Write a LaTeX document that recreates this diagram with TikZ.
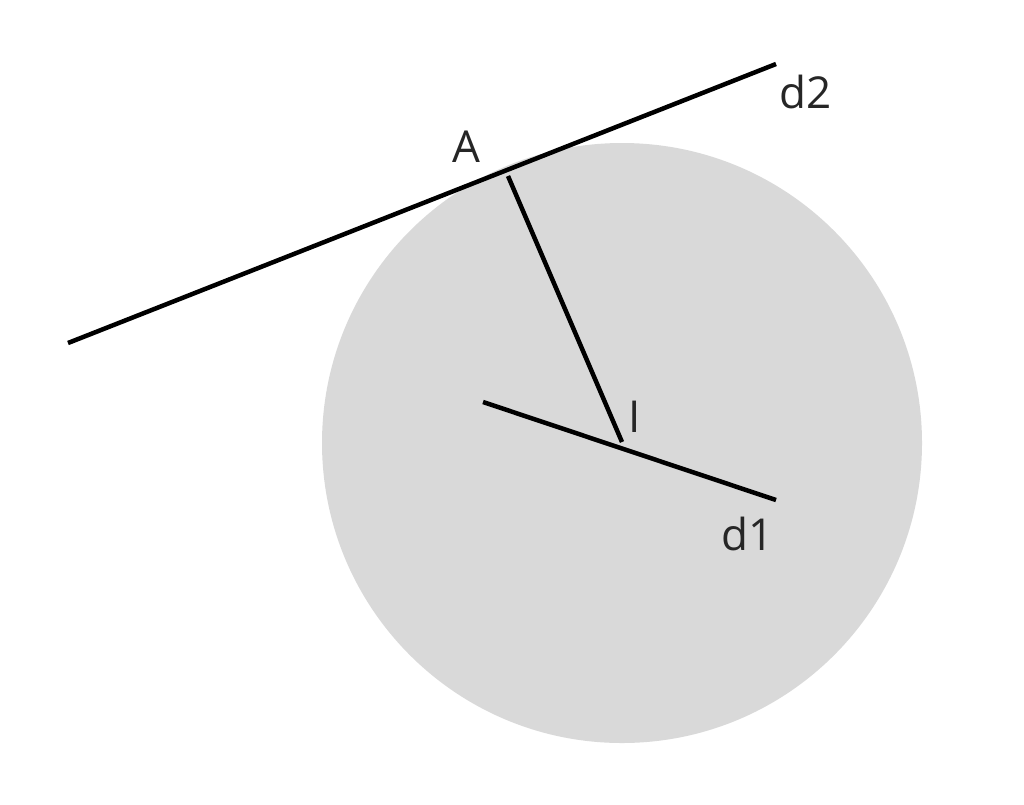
\documentclass[tikz,border=0pt]{standalone}
\usepackage{fontspec}
\setmainfont{Open Sans}
\begin{document}
\begin{tikzpicture}[x=1pt,y=-1pt,
  seg/.style={line width=4.5pt,black},
  lbl/.style={font=\fontsize{44}{48}\selectfont,text=black!85,inner sep=0pt}]
\useasboundingbox (0,0) rectangle (1024,804);
\fill[black!15] (622,443) circle[radius=300];
\coordinate (P1) at (68,343);
\coordinate (P2) at (776,64);
\coordinate (A) at (508,176);
\coordinate (I) at (622,442);
\coordinate (Q1) at (483,402);
\coordinate (Q2) at (776,500);
\draw[seg] (P1) -- (P2);
\draw[seg] (A) -- (I);
\draw[seg] (Q1) -- (Q2);
\node[lbl] (lA) at (466,147) {A};
\node[lbl] (ld2) at (806,92) {d2};
\node[lbl] (lI) at (635,417) {I};
\node[lbl] (ld1) at (748,534) {d1};
\end{tikzpicture}
\end{document}
